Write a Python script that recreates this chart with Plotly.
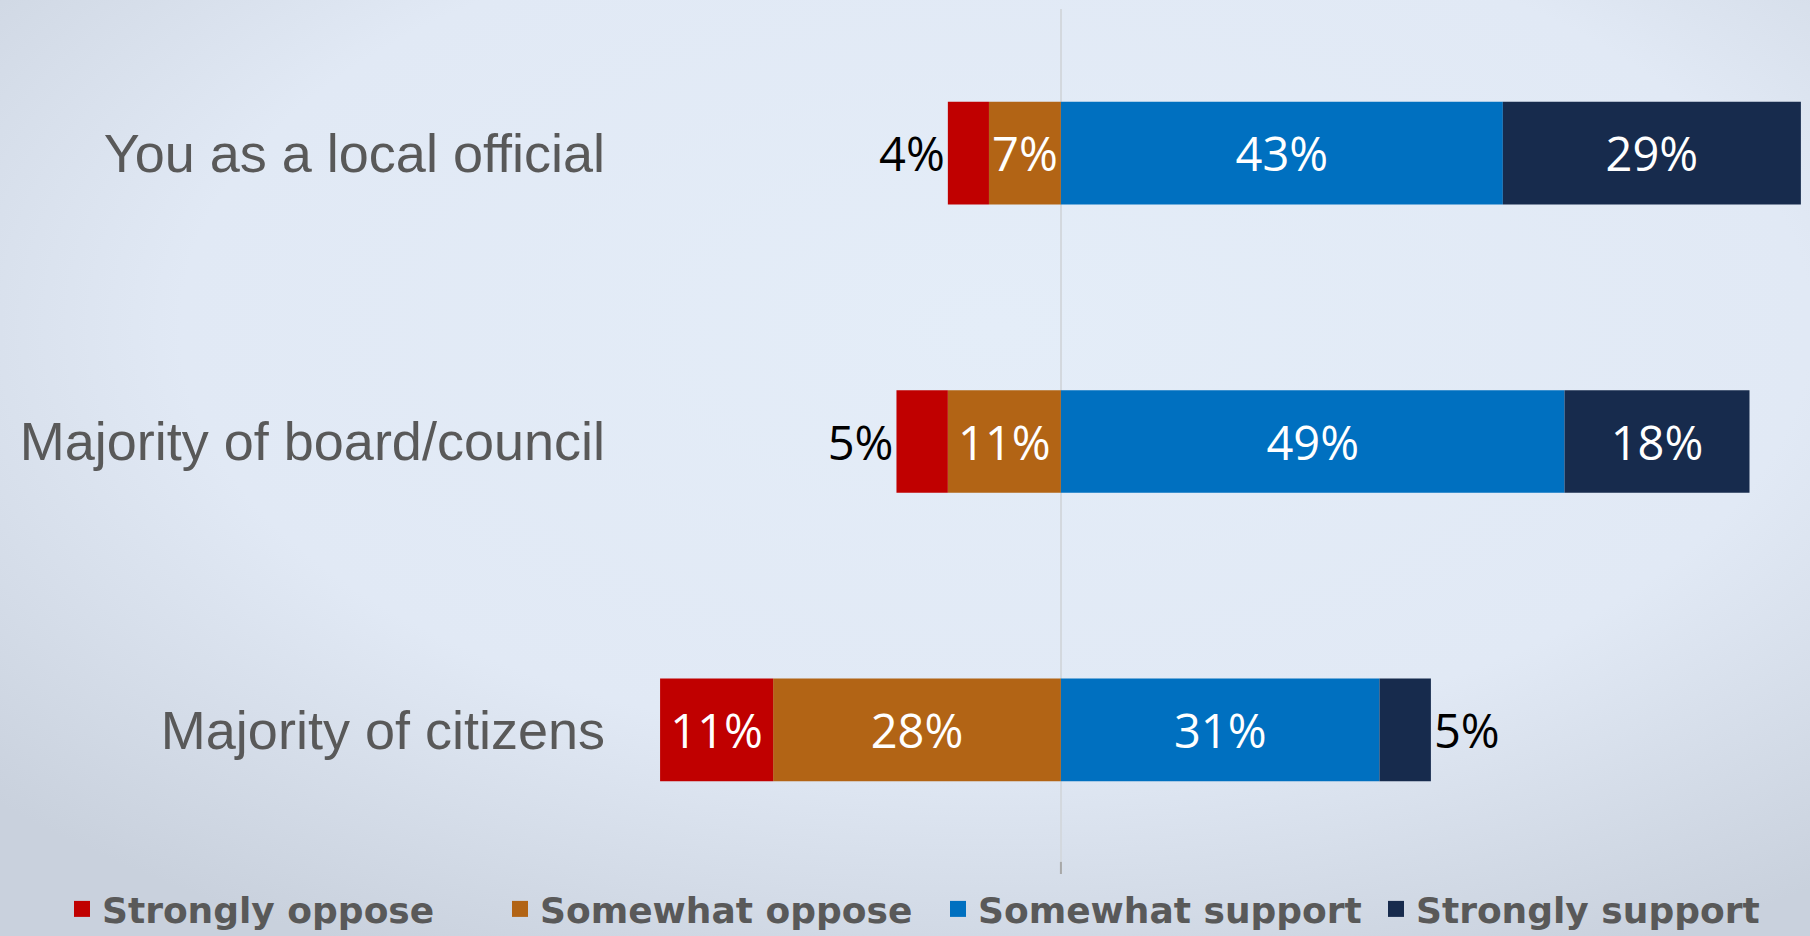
import plotly.graph_objects as go

categories = ["You as a local official", "Majority of board/council", "Majority of citizens"]
strongly_oppose = [4, 5, 11]
somewhat_oppose = [7, 11, 28]
somewhat_support = [43, 49, 31]
strongly_support = [29, 18, 5]

series_names = ["Strongly oppose", "Somewhat oppose", "Somewhat support", "Strongly support"]
colors = ["#C00000", "#B26415", "#0070C0", "#172B4D"]

W, H = 1810, 936
ML, MR, MT, MB = 620, 5, 9, 62
pw, ph = W - ML - MR, H - MT - MB

label_font = dict(family="Open Sans, Noto Sans, sans-serif", size=47)


def text_pos(vals):
    return ["outside" if v <= 5 else "inside" for v in vals]


fig = go.Figure()

neg = [(1, somewhat_oppose), (0, strongly_oppose)]
pos = [(2, somewhat_support), (3, strongly_support)]
for idx, vals in neg + pos:
    sign = -1 if idx < 2 else 1
    fig.add_trace(go.Bar(
        y=categories,
        x=[sign * v for v in vals],
        name=series_names[idx],
        orientation="h",
        marker=dict(color=colors[idx], line=dict(width=0)),
        text=[f"{v}%" for v in vals],
        textposition=text_pos(vals),
        textangle=0,
        insidetextanchor="middle",
        insidetextfont=dict(color="white", **label_font),
        outsidetextfont=dict(color="black", **label_font),
        constraintext="none",
        cliponaxis=False,
        showlegend=False,
        hoverinfo="skip",
    ))

# legend entries with larger square swatches
for idx, name in enumerate(series_names):
    fig.add_trace(go.Scatter(
        x=[None], y=[None], mode="markers", name=name,
        marker=dict(symbol="square", size=20, color=colors[idx]),
        legendrank=idx + 1, hoverinfo="skip",
    ))

svg = (
    "data:image/svg+xml;utf8,"
    "<svg xmlns='http://www.w3.org/2000/svg' width='1810' height='936'>"
    "<defs><radialGradient id='g' cx='0.55' cy='0.35' r='0.75'>"
    "<stop offset='0' stop-color='%23e4edf8'/>"
    "<stop offset='0.6' stop-color='%23e1e9f5'/>"
    "<stop offset='1' stop-color='%23c9d1dd'/>"
    "</radialGradient></defs>"
    "<rect width='1810' height='936' fill='url(%23g)'/></svg>"
)

fig.add_layout_image(dict(
    source=svg, xref="paper", yref="paper",
    x=-ML / pw, y=1 + MT / ph, sizex=W / pw, sizey=H / ph,
    sizing="stretch", layer="below", xanchor="left", yanchor="top",
))

fig.add_shape(type="line", xref="x", yref="paper", x0=0, x1=0, y0=0, y1=0.014,
              line=dict(color="#a8a8a8", width=2))

fig.update_layout(
    width=W, height=H,
    margin=dict(l=ML, r=MR, t=MT, b=MB, autoexpand=False),
    barmode="relative",
    bargap=0.644,
    paper_bgcolor="#e1e9f4",
    plot_bgcolor="rgba(0,0,0,0)",
    showlegend=True,
    legend=dict(
        orientation="h", xref="paper", x=(62 - ML) / pw, xanchor="left",
        yref="paper", y=-(909 - (MT + ph)) / ph, yanchor="middle",
        font=dict(family="DejaVu Sans, sans-serif", size=36, color="#595959", weight="bold"),
        traceorder="normal", itemsizing="trace", bgcolor="rgba(0,0,0,0)",
        entrywidth=393, entrywidthmode="pixels",
    ),
    xaxis=dict(range=[-42.9, 72.4], showgrid=False, showticklabels=False,
               zeroline=True, zerolinecolor="#d3d8de", zerolinewidth=2, fixedrange=True),
    yaxis=dict(categoryorder="array", categoryarray=categories[::-1],
               showgrid=False, zeroline=False, ticks="", ticklabelstandoff=14,
               tickfont=dict(family="Liberation Sans, Arial, sans-serif", size=54, color="#595959")),
)

fig.write_html("out.html", config={"displayModeBar": False},
               post_script="document.body.style.margin='0';")
